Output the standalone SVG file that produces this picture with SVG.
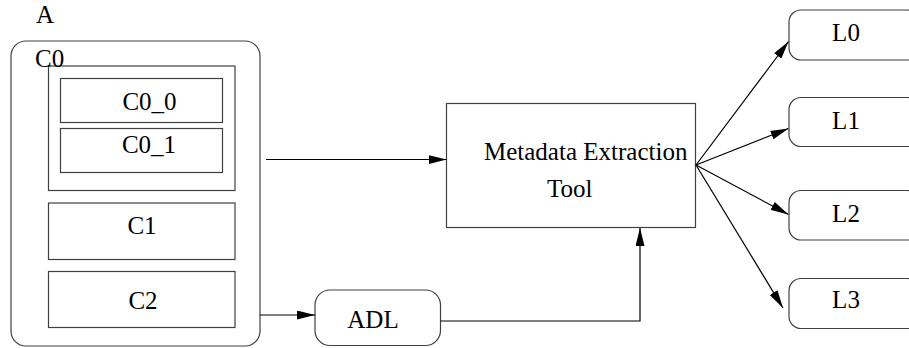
<svg xmlns="http://www.w3.org/2000/svg" width="909" height="348" viewBox="0 0 909 348">
<style>
  .box{fill:#ffffff;stroke:#404040;stroke-width:1.2}
  .t{font-family:"Liberation Serif","Times New Roman",serif;font-size:25px;fill:#000}
  .c{text-anchor:middle}
  .edge{fill:none;stroke:#000;stroke-width:1.2}
</style>
<defs>
  <marker id="ah" viewBox="0 0 18 9" refX="18" refY="4.5" markerWidth="18" markerHeight="9" markerUnits="userSpaceOnUse" orient="auto">
    <path d="M0,0 L18,4.5 L0,9 Z" fill="#000"/>
  </marker>
</defs>
<rect width="909" height="348" fill="#ffffff"/>
<g id="A">
  <text class="t" x="36" y="23">A</text>
  <rect class="box" x="11" y="41" width="249" height="305" rx="15"/>
</g>
<g id="C0">
  <rect class="box" x="48.5" y="66" width="186.5" height="124.5"/>
  <text class="t" x="35" y="67">C0</text>
</g>
<g id="C0_0">
  <rect class="box" x="60.5" y="78.5" width="162" height="44"/>
  <text class="t c" x="149.5" y="110">C0_0</text>
</g>
<g id="C0_1">
  <rect class="box" x="60.5" y="128.5" width="162" height="44"/>
  <text class="t c" x="149" y="153">C0_1</text>
</g>
<g id="C1">
  <rect class="box" x="48.5" y="203" width="186.5" height="56.5"/>
  <text class="t c" x="142" y="234">C1</text>
</g>
<g id="C2">
  <rect class="box" x="48.5" y="271.5" width="186.5" height="56"/>
  <text class="t c" x="143" y="309">C2</text>
</g>
<g id="ADL">
  <rect class="box" x="315" y="290" width="125.5" height="55.5" rx="15"/>
  <text class="t c" x="373" y="328">ADL</text>
</g>
<g id="MET">
  <rect class="box" x="446.5" y="103.5" width="249" height="124"/>
  <text class="t" x="484" y="160">Metadata Extraction</text>
  <text class="t" x="547" y="197">Tool</text>
</g>
<g id="L0">
  <rect class="box" x="789" y="10" width="130" height="50" rx="12"/>
  <text class="t c" x="846" y="41">L0</text>
</g>
<g id="L1">
  <rect class="box" x="789" y="97.5" width="130" height="49" rx="12"/>
  <text class="t c" x="846" y="129">L1</text>
</g>
<g id="L2">
  <rect class="box" x="789" y="190.5" width="130" height="49.5" rx="12"/>
  <text class="t c" x="846" y="222">L2</text>
</g>
<g id="L3">
  <rect class="box" x="789" y="278.5" width="130" height="50" rx="12"/>
  <text class="t c" x="846" y="308">L3</text>
</g>
<g id="connectors">
  <line class="edge" x1="266" y1="159.5" x2="446.5" y2="159.5" marker-end="url(#ah)"/>
  <line class="edge" x1="260" y1="315" x2="315" y2="315" marker-end="url(#ah)"/>
  <polyline class="edge" points="440.5,321 640,321 640,228" marker-end="url(#ah)"/>
  <line class="edge" x1="696" y1="165" x2="788.5" y2="41.5" marker-end="url(#ah)"/>
  <line class="edge" x1="696" y1="165" x2="788.5" y2="128.5" marker-end="url(#ah)"/>
  <line class="edge" x1="696" y1="165" x2="788.5" y2="214.5" marker-end="url(#ah)"/>
  <line class="edge" x1="696" y1="165" x2="783" y2="308" marker-end="url(#ah)"/>
</g>
</svg>
